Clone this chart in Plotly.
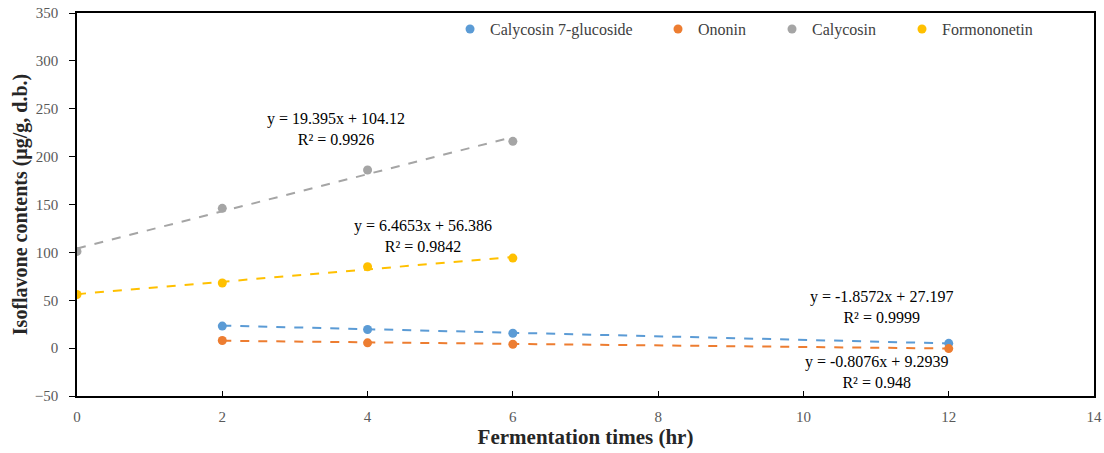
import plotly.graph_objects as go

series_names = ["Calycosin 7-glucoside", "Ononin", "Calycosin", "Formononetin"]
colors = ["#5B9BD5", "#ED7D31", "#A5A5A5", "#FFC000"]

x_c7g = [2, 4, 6, 12]
y_c7g = [23, 19.5, 15.5, 5]
x_ono = [2, 4, 6, 12]
y_ono = [8, 5.5, 4, -0.5]
x_cal = [0, 2, 4, 6]
y_cal = [101, 146, 186, 216]
x_for = [0, 2, 4, 6]
y_for = [56, 68, 85, 94]

slopes = [-1.8572, -0.8076, 19.395, 6.4653]
intercepts = [27.197, 9.2939, 104.12, 56.386]
eq_labels = [
    "y = -1.8572x + 27.197<br>R² = 0.9999",
    "y = -0.8076x + 9.2939<br>R² = 0.948",
    "y = 19.395x + 104.12<br>R² = 0.9926",
    "y = 6.4653x + 56.386<br>R² = 0.9842",
]
eq_pos = [(11.07, 43), (11.0, -25), (3.57, 229), (4.76, 117)]

xs = [x_c7g, x_ono, x_cal, x_for]
ys = [y_c7g, y_ono, y_cal, y_for]

x_ticks = [0, 2, 4, 6, 8, 10, 12, 14]
y_ticks = [-50, 0, 50, 100, 150, 200, 250, 300, 350]

legend_x = [0.3668, 0.5713, 0.6834, 0.8112]
legend_ids = ["legend", "legend2", "legend3", "legend4"]

font = "Liberation Serif, Times New Roman, serif"

fig = go.Figure()
for i in range(4):
    x0, x1 = min(xs[i]), max(xs[i])
    fig.add_trace(go.Scatter(
        x=[x0, x1], y=[intercepts[i] + slopes[i] * x0, intercepts[i] + slopes[i] * x1],
        mode="lines", line=dict(color=colors[i], width=2, dash="dash"),
        showlegend=False, hoverinfo="skip"))
for i in range(4):
    fig.add_trace(go.Scatter(
        x=xs[i], y=ys[i], mode="markers", name=series_names[i],
        marker=dict(color=colors[i], size=9), legend=legend_ids[i]))

for i in range(4):
    fig.add_annotation(x=eq_pos[i][0], y=eq_pos[i][1], text=eq_labels[i],
                       showarrow=False, xref="x", yref="y",
                       font=dict(family=font, size=16, color="#000000"),
                       align="center")

legend_common = dict(orientation="h", y=0.958, xanchor="left", yanchor="middle",
                     font=dict(family=font, size=16, color="#404040"),
                     bgcolor="rgba(0,0,0,0)", itemwidth=30)
layout_legends = {}
for i in range(4):
    layout_legends[legend_ids[i]] = dict(x=legend_x[i], **legend_common)

fig.update_layout(
    width=1104, height=453,
    margin=dict(l=77, r=10, t=13, b=57, autoexpand=False),
    paper_bgcolor="white", plot_bgcolor="white",
    font=dict(family=font, size=15, color="#595959"),
    showlegend=True,
    **layout_legends,
)
fig.update_xaxes(range=[0, 14], tickvals=x_ticks, ticks="inside", ticklen=5,
                 tickcolor="black", showgrid=False, zeroline=False, automargin=False,
                 showline=True, linecolor="black", linewidth=1.5, mirror=True,
                 ticklabelstandoff=6,
                 title=dict(text="<b>Fermentation times (hr)</b>",
                            font=dict(family=font, size=21, color="#262626"), standoff=6),
                 tickfont=dict(family=font, size=15, color="#595959"))
fig.update_yaxes(range=[-50, 350], tickvals=y_ticks, ticks="outside", ticklen=6,
                 tickcolor="black", showgrid=False, zeroline=False, automargin=False,
                 showline=True, linecolor="black", linewidth=1.5, mirror=True,
                 ticklabelstandoff=8,
                 title=dict(text="<b>Isoflavone contents (μg/g, d.b.)</b>",
                            font=dict(family=font, size=20, color="#262626"), standoff=2),
                 tickfont=dict(family=font, size=15, color="#595959"))

fig.write_html("out.html", config={"displayModeBar": False},
               post_script="document.body.style.margin='0';document.body.style.overflow='hidden';")
